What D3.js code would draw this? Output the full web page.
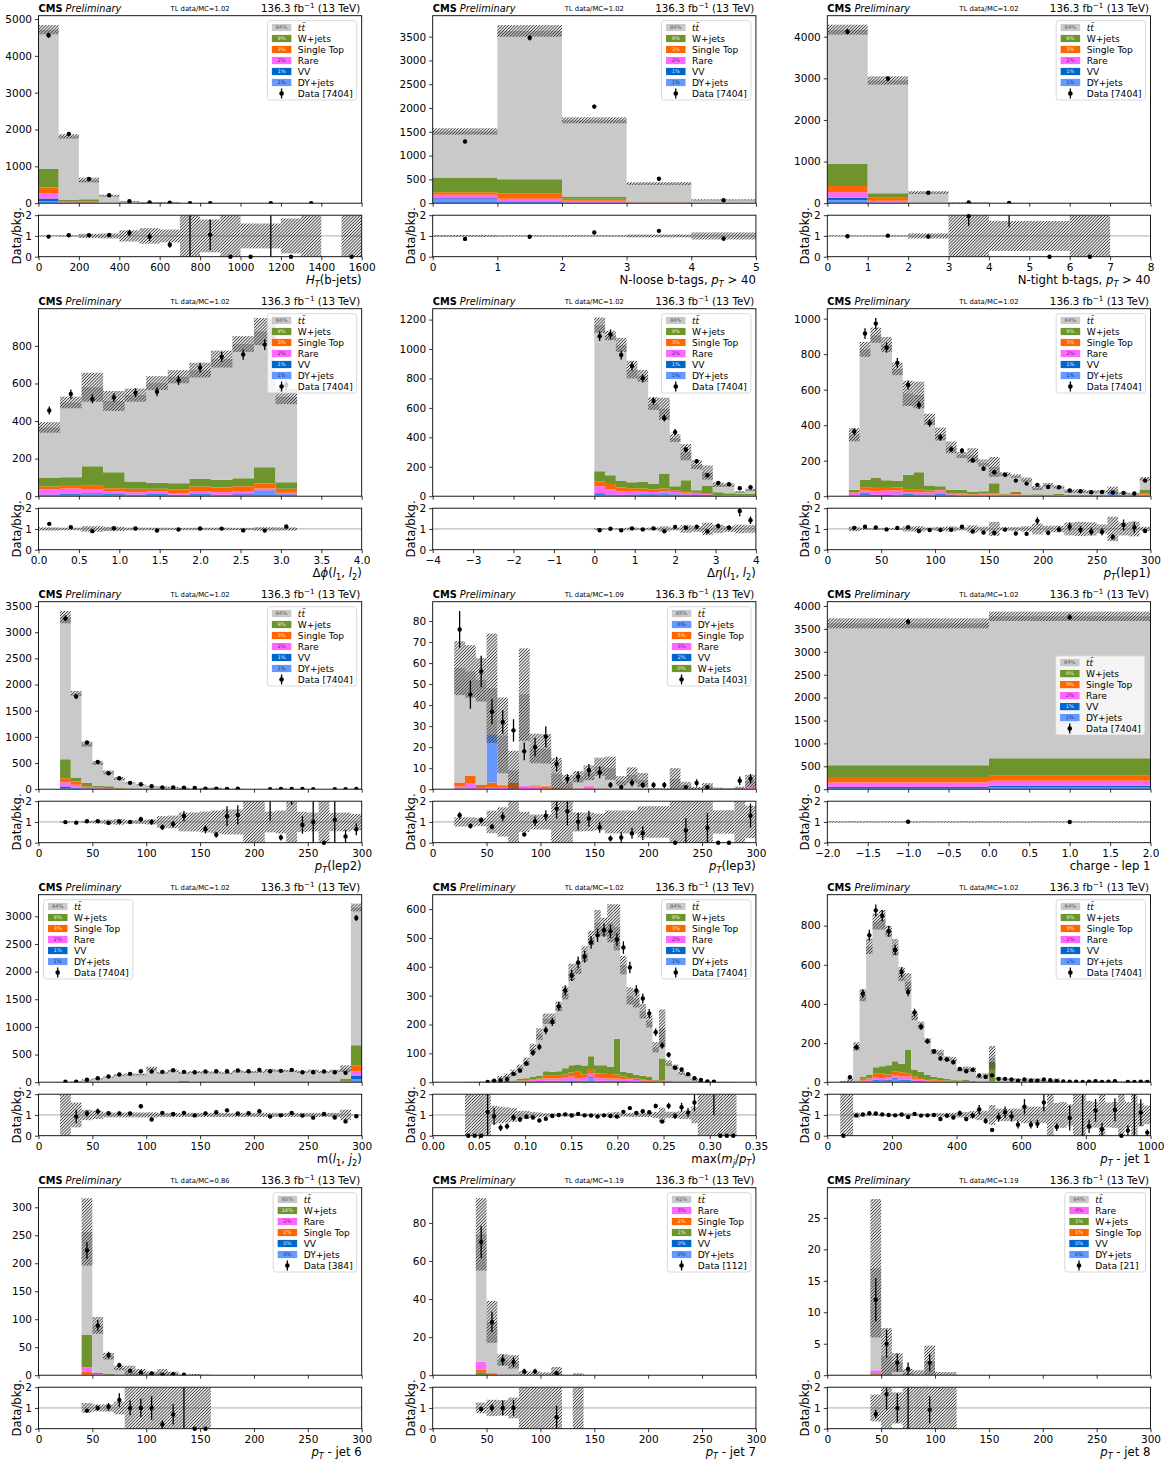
<!DOCTYPE html>
<html>
<head>
<meta charset="utf-8">
<script src="https://cdn.jsdelivr.net/npm/d3@7"></script>
<style>
  body { margin: 0; background: #fff; }
  svg text { font-family: "DejaVu Sans", sans-serif; }
</style>
</head>
<body>
<script>
// ---------------- process definitions ----------------
const procColors = { tt: "#c9c9c9", w: "#6e952d", st: "#ff6600", rare: "#ff66ff", vv: "#0066cc", dy: "#6699ff" };
const procLabels = { tt: "t\u0074\u0304", w: "W+jets", st: "Single Top", rare: "Rare", vv: "VV", dy: "DY+jets" };
const pctColors = { tt: "#5a5a5a", w: "#e4ecd0", st: "#ffe0c8", rare: "#7a1a7a", vv: "#d8e4f8", dy: "#1d3a7a" };

// legend order (top to bottom); stacks are drawn in reverse order
const orderStd = ["tt", "w", "st", "rare", "vv", "dy"];
const orderLep3 = ["tt", "dy", "st", "rare", "vv", "w"];
const orderJet6 = ["tt", "w", "rare", "st", "vv", "dy"];
const orderJet7 = ["tt", "rare", "st", "w", "vv", "dy"];
const orderJet8 = ["tt", "rare", "w", "st", "vv", "dy"];
const pctStd = ["84%", "9%", "3%", "2%", "1%", "1%"];
const pctLep3 = ["85%", "6%", "5%", "3%", "2%", "0%"];
const pctJet6 = ["80%", "16%", "2%", "2%", "0%", "0%"];
const pctJet7 = ["92%", "3%", "2%", "1%", "0%", "0%"];
const pctJet8 = ["94%", "4%", "1%", "1%", "0%", "0%"];

const tlRatios = ["1.02", "1.02", "1.02", "1.02", "1.02", "1.02", "1.02", "1.09", "1.02", "1.02", "1.02", "1.02", "0.86", "1.19", "1.19"];
const dataTotals = [7404, 7404, 7404, 7404, 7404, 7404, 7404, 403, 7404, 7404, 7404, 7404, 384, 112, 21];

// ---------------- H_T(b-jets) ----------------
const htEdges = d3.range(0, 1601, 100);
const htData = [4560, 1880, 655, 215, 55, 23, 15, 1, 2, 0, 0, 1, 0, 1, 0, 0];
const htMC = [4710, 1815, 630, 205, 48, 24, 26, 0.4, 1.9, 0.8, 1.0, 0.35, 0.5, 0, 0, 0.3];
const htUnc = [125, 60, 65, 25, 13, 9, 8, 0.5, 1.5, 0.9, 0.6, 0.21, 0.42, 0.5, 0, 0.4];
const htW = [505, 40, 60, 5, 2, 1, 0.5, 0, 0, 0, 0, 0, 0, 0, 0, 0];
const htST = [155, 25, 25, 5, 2, 1, 0.5, 0, 0, 0, 0, 0, 0, 0, 0, 0];
const htRare = [140, 15, 12, 3, 1, 0.5, 0.3, 0, 0, 0, 0, 0, 0, 0, 0, 0];
const htVV = [70, 5, 5, 1, 0.5, 0.2, 0.2, 0, 0, 0, 0, 0, 0, 0, 0, 0];
const htDY = [60, 5, 5, 1, 0.5, 0.2, 0.2, 0, 0, 0, 0, 0, 0, 0, 0, 0];

// ---------------- N-loose b-tags ----------------
const nlEdges = [0, 1, 2, 3, 4, 5];
const nlData = [1295, 3478, 2030, 515, 61];
const nlMC = [1508, 3620, 1742, 413, 70];
const nlUnc = [67, 122, 63, 28, 12];
const nlW = [308, 294, 49, 5, 1];
const nlST = [56, 119, 42, 8, 2];
const nlRare = [70, 51, 35, 5, 1];
const nlVV = [25, 10, 5, 1, 0];
const nlDY = [80, 30, 9, 1, 0];

// ---------------- N-tight b-tags ----------------
const ntEdges = [0, 1, 2, 3, 4, 5, 6, 7, 8];
const ntData = [4120, 2992, 250, 17, 4, 0, 0, 0];
const ntMC = [4168, 2948, 256, 8.7, 1.38, 0.5, 0.3, 0];
const ntUnc = [120, 100, 32, 10, 1.0, 0.36, 0.4, 0];
const ntW = [530, 112, 2, 0, 0, 0, 0, 0];
const ntST = [150, 72, 1, 0, 0, 0, 0, 0];
const ntRare = [134, 40, 1, 0, 0, 0, 0, 0];
const ntVV = [60, 8, 0.5, 0, 0, 0, 0, 0];
const ntDY = [70, 8, 0.5, 0, 0, 0, 0, 0];

// ---------------- delta phi(l1,l2) ----------------
const dphiEdges = d3.range(13).map(i => i * 4 / 15);
const dphiData = [456, 544, 518, 525, 551, 556, 617, 684, 742, 754, 807, 592];
const dphiMC = [366, 499, 580, 507, 538, 602, 636, 671, 730, 810, 876, 530];
const dphiUnc = [28, 31, 77, 53, 35, 37, 35, 39, 45, 42, 72, 40];
const dphiW = [46, 41, 104, 85, 39, 33, 34, 41, 41, 42, 87, 35];
const dphiST = [16, 19, 18, 16, 18, 14, 21, 23, 25, 25, 26, 21];
const dphiRare = [26, 29, 21, 14, 12, 13, 6, 16, 13, 18, 11, 7];
const dphiVV = [4, 4, 6, 4, 4, 4, 3, 4, 3, 4, 5, 3];
const dphiDY = [5, 8, 10, 8, 5, 8, 5, 8, 5, 6, 25, 8];

// ---------------- delta eta(l1,l2) ----------------
const detaEdges = d3.range(16).map(i => i * 4 / 15);
const detaData = [1087, 1099, 959, 884, 801, 647, 530, 435, 316, 237, 142, 90, 81, 54, 61];
const detaMC = [1162, 1092, 1028, 860, 818, 629, 594, 395, 299, 214, 161, 79, 76, 29, 43];
const detaUnc = [52, 32, 48, 60, 40, 43, 75, 27, 55, 30, 48, 16, 11, 6, 8];
const detaW = [67, 59, 45, 41, 47, 41, 99, 27, 72, 18, 54, 18, 13, 12, 12];
const detaST = [34, 38, 25, 22, 16, 16, 16, 12, 13, 7, 2, 3, 3, 2, 2];
const detaRare = [48, 33, 24, 21, 19, 16, 11, 15, 11, 8, 6, 2, 2, 2, 2];
const detaVV = [10, 6, 5, 6, 5, 5, 5, 4, 4, 3, 3, 1, 1, 1, 1];
const detaDY = [10, 6, 5, 5, 12, 8, 20, 10, 8, 5, 5, 2, 1, 1, 1];

// ---------------- pT(lep1) ----------------
const lepEdges = d3.range(20, 301, 10);
const lep1Data = [364, 916, 972, 837, 751, 626, 514, 411, 331, 265, 256, 202, 155, 135, 121, 88, 71, 64, 52, 50, 32, 28, 22, 24, 21, 19, 15, 88];
const lep1MC = [346, 827, 907, 855, 717, 579, 570, 433, 350, 275, 232, 230, 187, 165, 125, 113, 93, 46, 64, 51, 29, 29, 25, 28, 34, 16, 14, 98];
const lep1Unc = [37, 42, 43, 42, 35, 71, 75, 31, 36, 33, 17, 40, 20, 56, 10, 10, 12, 12, 10, 8, 9, 10, 8, 6, 20, 5, 5, 10];
const lep1W = [15, 46, 51, 38, 36, 84, 98, 28, 15, 22, 22, 13, 13, 58, 6, 11, 2, 4, 3, 5, 2, 2, 2, 3, 2, 2, 2, 22];
const lep1ST = [3, 15, 24, 20, 18, 15, 15, 11, 9, 4, 5, 3, 5, 6, 3, 3, 2, 2, 2, 2, 1, 1, 1, 1, 1, 1, 1, 8];
const lep1Rare = [13, 16, 20, 25, 23, 10, 13, 12, 19, 6, 6, 5, 6, 6, 4, 8, 3, 3, 3, 3, 2, 2, 2, 2, 1, 2, 2, 5];
const lep1VV = [3, 8, 5, 4, 4, 4, 4, 4, 5, 2, 2, 1, 2, 1, 1, 1, 1, 1, 1, 1, 1, 1, 1, 1, 1, 1, 1, 1];
const lep1DY = [3, 8, 3, 3, 5, 8, 5, 5, 8, 3, 2, 2, 2, 2, 1, 1, 1, 1, 1, 1, 1, 1, 1, 1, 18, 1, 1, 2];

// ---------------- pT(lep2) ----------------
const lep2Data = [3265, 1770, 891, 522, 306, 210, 121, 95, 57, 32, 32, 27, 22, 11, 8, 7, 8, 0, 0, 2, 3, 4, 4, 1, 0, 1, 1, 5];
const lep2MC = [3288, 1830, 862, 503, 321, 206, 121, 84, 57, 43, 36, 21, 7, 17, 21, 5.5, 6, 0, 0, 0.56, 12, 1.1, 4.7, 1.0, 0.5, 0.9, 3.3, 7.7];
const lep2Unc = [118, 48, 48, 38, 35, 28, 10, 8.4, 7, 12, 11, 9.5, 3.2, 8.5, 11.5, 3.3, 3.6, 1, 1, 0.28, 6.6, 1.3, 2.3, 0.45, 0.6, 0.4, 1.5, 3];
const lep2W = [363, 77, 64, 32, 32, 10, 4, 2, 1, 1, 0.5, 0, 0, 0, 0, 0, 0, 0, 0, 0, 0, 0, 0, 0, 0, 0, 0, 0];
const lep2ST = [76, 63, 27, 12, 10, 6, 3, 2, 1, 1, 0.5, 0, 0, 0, 0, 0, 0, 0, 0, 0, 0, 0, 0, 0, 0, 0, 0, 0];
const lep2Rare = [84, 53, 14, 10, 7, 5, 2, 1, 1, 0.5, 0.5, 0, 0, 0, 0, 0, 0, 0, 0, 0, 0, 0, 0, 0, 0, 0, 0, 0];
const lep2VV = [25, 15, 8, 5, 4, 2, 1, 1, 0.5, 0.3, 0.3, 0, 0, 0, 0, 0, 0, 0, 0, 0, 0, 0, 0, 0, 0, 0, 0, 0];
const lep2DY = [25, 15, 8, 5, 4, 2, 1, 1, 0.5, 0.3, 0.3, 0, 0, 0, 0, 0, 0, 0, 0, 0, 0, 0, 0, 0, 0, 0, 0, 0];

// ---------------- pT(lep3) ----------------
const lep3Data = [76, 45, 56, 37, 32, 28, 18, 20, 25, 12, 5, 6, 9, 8, 2, 1, 3, 2, 2, 2, 0, 1, 3, 1, 0, 0, 4, 5];
const lep3MC = [57.6, 56, 52, 48, 25.6, 9, 45, 19.4, 19.2, 7.3, 3.3, 5.9, 7.8, 10.7, 10, 4, 6.7, 4.4, 0.25, 0.25, 5, 1.7, 0.5, 1.4, 0.5, 0.3, 0.6, 3.85];
const lep3Unc = [12.8, 12.5, 10.3, 26, 18, 9.3, 22, 7, 7, 7.5, 3.5, 2.7, 3.5, 4.3, 5.5, 2.2, 3.7, 3.3, 0.19, 0.19, 5, 1.8, 0.55, 1.5, 0.28, 0.17, 0.6, 3];
const lep3W = [0, 0, 0, 0, 0, 0, 0, 0, 0, 0, 0, 0, 0, 0, 0, 0, 0, 0, 0, 0, 0, 0, 0, 0, 0, 0, 0, 0];
const lep3ST = [1.9, 3.4, 1.5, 2.1, 0.9, 2.9, 0, 0.6, 1.1, 0.5, 0.3, 0.3, 0.3, 0.3, 0.2, 0.2, 0.2, 0, 0, 0, 0, 0, 0, 0, 0, 0, 0, 0.5];
const lep3Rare = [1.0, 2.6, 0.5, 0.8, 1.0, 0.3, 1.6, 1.3, 0.3, 0, 0, 0, 1.4, 0, 0, 0, 0, 0, 0, 0, 0, 0, 0, 0, 0, 0, 0, 0.8];
const lep3VV = [0.3, 0.3, 0, 0.3, 0, 0, 0, 0, 0, 0, 0, 0, 0, 0, 0, 0, 0, 0, 0, 0, 0, 0, 0, 0, 0, 0, 0, 0];
const lep3DY = [0, 0, 0, 22.9, 0, 0, 0, 0, 0, 0, 0, 0, 0, 0, 0, 0, 0, 0, 0, 0, 0, 0, 0, 0, 0, 0, 0, 0];

// ---------------- charge lep1 ----------------
const chEdges = [-2, 0, 2];
const chData = [3658, 3753];
const chMC = [3622, 3775];
const chUnc = [109, 102];
const chW = [255, 385];
const chST = [124, 109];
const chRare = [90, 109];
const chVV = [30, 37];
const chDY = [25, 36];

// ---------------- m(l1,j2) ----------------
const mljData = [7, 8, 45, 72, 102, 139, 151, 199, 193, 187, 217, 187, 181, 193, 199, 199, 211, 199, 223, 199, 205, 223, 181, 181, 193, 181, 169, 2970];
const mljMC = [2, 8.7, 42, 61.5, 94, 129, 141, 140, 247, 170, 207, 170, 185, 179, 176, 163, 197, 184, 189, 216, 209, 203, 187, 208, 184, 206, 245, 3160];
const mljUnc = [2.2, 5.2, 10.5, 12, 11, 15, 17, 17, 32, 17, 21, 17, 19, 18, 18, 16, 20, 18, 19, 22, 21, 20, 19, 21, 18, 21, 61, 70];
const mljW = [0, 0.5, 1, 2, 3, 4, 4, 5, 6, 5, 5, 5, 5, 8, 6, 6, 8, 8, 6, 6, 6, 8, 6, 6, 6, 6, 45, 362];
const mljST = [0, 0.2, 0.5, 1, 1, 2, 2, 2, 3, 2, 2, 2, 2, 2, 2, 2, 2, 2, 2, 2, 2, 2, 2, 2, 2, 2, 5, 107];
const mljRare = [0, 0.2, 0.5, 1, 1, 1, 1, 1, 2, 1, 1, 1, 1, 1, 1, 1, 1, 1, 1, 1, 1, 1, 1, 1, 1, 1, 5, 90];
const mljVV = [0, 0, 0.5, 0.5, 1, 1, 1, 1, 1, 1, 1, 12, 1, 1, 1, 1, 1, 1, 1, 1, 1, 1, 1, 1, 1, 1, 3, 50];
const mljDY = [0, 0, 0.5, 0.5, 1, 1, 1, 1, 1, 1, 1, 1, 1, 1, 1, 1, 1, 1, 1, 1, 1, 1, 1, 1, 1, 1, 2, 60];

// ---------------- max(m_j/p_T) ----------------
const mjEdges = d3.range(5, 48).map(k => k * 0.007);
const mjData = [0, 0, 0, 1, 5, 6, 10, 29, 40, 65, 102, 122, 180, 209, 263, 318, 370, 415, 435, 485, 509, 527, 523, 494, 467, 398, 318, 290, 238, 173, 127, 95, 50, 44, 28, 14, 8, 3, 2, 0, 0, 0];
const mjMC = [0.5, 0.8, 1.0, 0.87, 5.4, 15.8, 22, 33, 51, 71, 116, 167, 220, 220, 263, 309, 381, 395, 444, 500, 553, 538, 551, 537, 406, 299, 289, 246, 211, 121, 187, 66, 53, 32, 25, 8.75, 2, 0.6, 0.59, 0.5, 0.5, 0.4];
const mjUnc = [0.6, 0.9, 1.1, 0.9, 2.4, 6.3, 8, 11, 10, 14, 17, 20, 18, 18, 16, 22, 30, 20, 27, 25, 44, 32, 66, 80, 32, 30, 30, 25, 21, 18, 65, 10, 8, 6.4, 5, 3.5, 2.5, 0.8, 0.8, 0.6, 0.6, 0.5];
const mjW = [0, 0, 0, 0, 0, 0, 3, 4, 5, 6, 8, 10, 16, 14, 16, 21, 25, 25, 31, 44, 29, 30, 25, 124, 16, 19, 12, 12, 12, 4, 75, 2, 1, 0, 0, 0, 0, 0, 0, 0, 0, 0];
const mjST = [0, 0, 0, 0, 0, 0, 1, 1, 2, 3, 3, 4, 9, 9, 9, 12, 14, 23, 12, 17, 15, 15, 15, 14, 10, 5, 5, 4, 3, 2, 3, 1, 0, 0, 0, 0, 0, 0, 0, 0, 0, 0];
const mjRare = [0, 0, 0, 0, 0, 0, 0, 1, 2, 3, 4, 5, 8, 8, 8, 9, 14, 8, 9, 12, 10, 9, 8, 7, 6, 6, 5, 4, 3, 2, 2, 1, 0, 0, 0, 0, 0, 0, 0, 0, 0, 0];
const mjVV = [0, 0, 0, 0, 0, 0, 0, 0, 1, 1, 1, 2, 2, 2, 2, 3, 2, 2, 2, 3, 2, 2, 2, 3, 2, 1, 1, 1, 1, 0, 1, 0, 0, 0, 0, 0, 0, 0, 0, 0, 0, 0];
const mjDY = [0, 0, 0, 0, 0, 0, 0, 0, 1, 1, 2, 2, 3, 3, 3, 3, 4, 3, 4, 14, 3, 3, 3, 3, 2, 2, 2, 1, 1, 1, 1, 0, 0, 0, 0, 0, 0, 0, 0, 0, 0, 0];

// ---------------- pT jet 1 ----------------
const j1Edges = d3.range(40, 1001, 20);
const j1Data = [0, 25, 179, 453, 751, 878, 851, 771, 676, 563, 461, 356, 283, 209, 157, 121, 116, 102, 68, 56, 63, 34, 27, 35, 17, 17, 14, 8, 14, 8, 8, 14, 10, 5, 4, 2, 3, 1, 2, 5, 1, 3, 5, 0, 1, 1, 3, 1];
const j1MC = [3, 8, 183, 444, 695, 821, 830, 771, 690, 552, 512, 339, 292, 213, 157, 151, 120, 116, 63, 70, 65, 27, 38, 125, 19, 15, 15, 15, 10, 15, 14, 8.75, 3, 12, 0.8, 2.35, 0.5, 0.45, 4.4, 4.1, 3.3, 0.5, 4, 2, 4, 0.45, 2.7, 6.7];
const j1Unc = [4, 9, 21, 30, 40, 41, 50, 27, 42, 35, 45, 22, 18, 12, 12, 15, 12, 12, 8, 10, 12, 6.8, 7.6, 60, 5.7, 4.5, 4.5, 4.5, 4, 6, 5.6, 3.5, 3.5, 7, 0.5, 1.2, 0.5, 0.5, 3, 2.5, 3.5, 0.3, 2.5, 2.2, 2.5, 0.5, 1.5, 3];
const j1W = [0, 0, 4, 10, 12, 34, 39, 48, 51, 43, 124, 34, 31, 22, 13, 11, 8, 6, 4, 8, 2, 1, 1, 98, 1, 1, 0.5, 0.5, 0.5, 0.5, 0.5, 0.5, 0, 0, 0, 0, 0, 0, 0, 0, 0, 0, 0, 0, 0, 0, 0, 0];
const j1ST = [0, 0, 2, 9, 10, 17, 21, 13, 20, 22, 14, 14, 8, 7, 6, 5, 4, 3, 2, 2, 1, 1, 1, 3, 0.5, 0.5, 0.5, 0.5, 0.5, 0.5, 0.5, 0.5, 0, 0, 0, 0, 0, 0, 0, 0, 0, 0, 0, 0, 0, 0, 0, 0];
const j1Rare = [0, 0, 1, 3, 9, 13, 12, 14, 13, 16, 16, 10, 8, 5, 4, 3, 3, 3, 2, 2, 1, 1, 1, 2, 0.3, 0.3, 0.3, 0.3, 0.3, 0.3, 0.3, 0.3, 0, 0, 0, 0, 0, 0, 0, 0, 0, 0, 0, 0, 0, 0, 0, 0];
const j1VV = [0, 0, 1, 2, 3, 5, 4, 5, 5, 5, 5, 3, 3, 2, 2, 1, 1, 1, 1, 1, 1, 0, 0, 0, 0, 0, 0, 0, 0, 0, 0, 0, 0, 0, 0, 0, 0, 0, 0, 0, 0, 0, 0, 0, 0, 0, 0, 0];
const j1DY = [0, 0, 1, 3, 5, 8, 6, 7, 18, 8, 8, 4, 3, 2, 2, 1, 1, 1, 1, 1, 1, 0, 0, 1, 0, 0, 0, 0, 0, 0, 0, 0, 0, 0, 0, 0, 0, 0, 0, 0, 0, 0, 0, 0, 0, 0, 0, 0];

// ---------------- pT jet 6 ----------------
const j6Edges = d3.range(40, 161, 10);
const j6Data = [223, 89, 36, 18, 8, 5, 3, 1, 2, 1, 0, 0];
const j6MC = [256, 89, 34, 13, 8, 5, 3, 5, 2.9, 0.45, 1, 0.5];
const j6Unc = [60, 15, 6, 4, 9, 6, 3.5, 6, 3.5, 0.6, 1.2, 0.6];
const j6W = [58, 2, 1, 0.5, 0, 0, 0, 0, 0, 0, 0, 0];
const j6ST = [5, 1, 0.5, 0.2, 0, 0, 0, 0, 0, 0, 0, 0];
const j6Rare = [8, 1, 0.5, 0.2, 0, 0, 0, 0, 0, 0, 0, 0];
const j6VV = [0.5, 0, 0, 0, 0, 0, 0, 0, 0, 0, 0, 0];
const j6DY = [0.5, 0, 0, 0, 0, 0, 0, 0, 0, 0, 0, 0];

// ---------------- pT jet 7 ----------------
const j7Edges = d3.range(40, 141, 10);
const j7Data = [70, 28, 8, 7, 2, 2, 0, 1, 0, 0];
const j7MC = [74, 28, 8, 7, 0, 0, 0, 1.8, 0, 0];
const j7Unc = [19, 11, 3, 3.5, 2, 2, 1.5, 2.5, 0, 1];
const j7W = [1.2, 0.3, 0, 0, 0, 0, 0, 0, 0, 0];
const j7ST = [1.3, 0.3, 0, 0, 0, 0, 0, 0, 0, 0];
const j7Rare = [4.2, 0.5, 0.2, 0, 0, 0, 0, 0, 0, 0];
const j7VV = [0.3, 0, 0, 0, 0, 0, 0, 0, 0, 0];
const j7DY = [0, 0, 0, 0, 0, 0, 0, 0, 0, 0];

// ---------------- pT jet 8 ----------------
const j8Edges = d3.range(40, 121, 10);
const j8Data = [12, 5, 2, 1, 0, 2, 0, 0];
const j8MC = [17, 3, 2, 0.4, 0, 2.2, 0, 0];
const j8Unc = [11, 4.5, 1.5, 0.6, 0.8, 2.5, 0.5, 0.5];
const j8W = [0.2, 0, 0, 0, 0, 0, 0, 0];
const j8ST = [0.1, 0, 0, 0, 0, 0, 0, 0];
const j8Rare = [0.5, 0.1, 0, 0, 0, 0, 0, 0];
const j8VV = [0, 0, 0, 0, 0, 0, 0, 0];
const j8DY = [0, 0, 0, 0, 0, 0, 0, 0];

// ---------------- axis titles (text, style: i=italic, s=subscript) ----------------
const xlHT = [["H", "i"], ["T", "is"], ["(b-jets)", ""]];
const xlNL = [["N-loose b-tags, ", ""], ["p", "i"], ["T", "is"], [" > 40", ""]];
const xlNT = [["N-tight b-tags, ", ""], ["p", "i"], ["T", "is"], [" > 40", ""]];
const xlDphi = [["\u0394", ""], ["\u03d5", "i"], ["(", ""], ["l", "i"], ["1", "s"], [", ", ""], ["l", "i"], ["2", "s"], [")", ""]];
const xlDeta = [["\u0394", ""], ["\u03b7", "i"], ["(", ""], ["l", "i"], ["1", "s"], [", ", ""], ["l", "i"], ["2", "s"], [")", ""]];
const xlLep1 = [["p", "i"], ["T", "is"], ["(lep1)", ""]];
const xlLep2 = [["p", "i"], ["T", "is"], ["(lep2)", ""]];
const xlLep3 = [["p", "i"], ["T", "is"], ["(lep3)", ""]];
const xlCharge = [["charge - lep 1", ""]];
const xlMlj = [["m(", ""], ["l", "i"], ["1", "s"], [", ", ""], ["j", "i"], ["2", "s"], [")", ""]];
const xlMj = [["max(", ""], ["m", "i"], ["j", "is"], ["/", ""], ["p", "i"], ["T", "is"], [")", ""]];
const xlJet1 = [["p", "i"], ["T", "is"], [" - jet 1", ""]];
const xlJet6 = [["p", "i"], ["T", "is"], [" - jet 6", ""]];
const xlJet7 = [["p", "i"], ["T", "is"], [" - jet 7", ""]];
const xlJet8 = [["p", "i"], ["T", "is"], [" - jet 8", ""]];

// ---------------- panel table ----------------
const fInt = d3.format("d"), f1 = d3.format(".1f"), f2 = d3.format(".2f");
const panels = [
  { edges: htEdges, data: htData, mc: htMC, unc: htUnc, parts: { w: htW, st: htST, rare: htRare, vv: htVV, dy: htDY },
    xDom: [0, 1600], xTicks: d3.range(0, 1601, 200), xFmt: fInt, yMax: 5090, yTicks: d3.range(0, 5001, 1000), xl: xlHT, order: orderStd, pct: pctStd, leg: "ur" },
  { edges: nlEdges, data: nlData, mc: nlMC, unc: nlUnc, parts: { w: nlW, st: nlST, rare: nlRare, vv: nlVV, dy: nlDY },
    xDom: [0, 5], xTicks: d3.range(0, 6, 1), xFmt: fInt, yMax: 3940, yTicks: d3.range(0, 3501, 500), xl: xlNL, order: orderStd, pct: pctStd, leg: "ur" },
  { edges: ntEdges, data: ntData, mc: ntMC, unc: ntUnc, parts: { w: ntW, st: ntST, rare: ntRare, vv: ntVV, dy: ntDY },
    xDom: [0, 8], xTicks: d3.range(0, 9, 1), xFmt: fInt, yMax: 4504, yTicks: d3.range(0, 4001, 1000), xl: xlNT, order: orderStd, pct: pctStd, leg: "ur" },
  { edges: dphiEdges, data: dphiData, mc: dphiMC, unc: dphiUnc, parts: { w: dphiW, st: dphiST, rare: dphiRare, vv: dphiVV, dy: dphiDY },
    xDom: [0, 4], xTicks: d3.range(0, 4.01, 0.5), xFmt: f1, yMax: 998, yTicks: d3.range(0, 801, 200), xl: xlDphi, order: orderStd, pct: pctStd, leg: "ur" },
  { edges: detaEdges, data: detaData, mc: detaMC, unc: detaUnc, parts: { w: detaW, st: detaST, rare: detaRare, vv: detaVV, dy: detaDY },
    xDom: [-4, 4], xTicks: d3.range(-4, 5, 1), xFmt: fInt, yMax: 1274, yTicks: d3.range(0, 1201, 200), xl: xlDeta, order: orderStd, pct: pctStd, leg: "ur" },
  { edges: lepEdges, data: lep1Data, mc: lep1MC, unc: lep1Unc, parts: { w: lep1W, st: lep1ST, rare: lep1Rare, vv: lep1VV, dy: lep1DY },
    xDom: [0, 300], xTicks: d3.range(0, 301, 50), xFmt: fInt, yMax: 1056, yTicks: d3.range(0, 1001, 200), xl: xlLep1, order: orderStd, pct: pctStd, leg: "ur" },
  { edges: lepEdges, data: lep2Data, mc: lep2MC, unc: lep2Unc, parts: { w: lep2W, st: lep2ST, rare: lep2Rare, vv: lep2VV, dy: lep2DY },
    xDom: [0, 300], xTicks: d3.range(0, 301, 50), xFmt: fInt, yMax: 3583, yTicks: d3.range(0, 3501, 500), xl: xlLep2, order: orderStd, pct: pctStd, leg: "ur" },
  { edges: lepEdges, data: lep3Data, mc: lep3MC, unc: lep3Unc, parts: { w: lep3W, st: lep3ST, rare: lep3Rare, vv: lep3VV, dy: lep3DY },
    xDom: [0, 300], xTicks: d3.range(0, 301, 50), xFmt: fInt, yMax: 89.2, yTicks: d3.range(0, 81, 10), xl: xlLep3, order: orderLep3, pct: pctLep3, leg: "ur" },
  { edges: chEdges, data: chData, mc: chMC, unc: chUnc, parts: { w: chW, st: chST, rare: chRare, vv: chVV, dy: chDY },
    xDom: [-2, 2], xTicks: d3.range(-2, 2.01, 0.5), xFmt: f1, yMax: 4094, yTicks: d3.range(0, 4001, 500), xl: xlCharge, order: orderStd, pct: pctStd, leg: "cr" },
  { edges: lepEdges, data: mljData, mc: mljMC, unc: mljUnc, parts: { w: mljW, st: mljST, rare: mljRare, vv: mljVV, dy: mljDY },
    xDom: [0, 300], xTicks: d3.range(0, 301, 50), xFmt: fInt, yMax: 3391, yTicks: d3.range(0, 3001, 500), xl: xlMlj, order: orderStd, pct: pctStd, leg: "ul" },
  { edges: mjEdges, data: mjData, mc: mjMC, unc: mjUnc, parts: { w: mjW, st: mjST, rare: mjRare, vv: mjVV, dy: mjDY },
    xDom: [0, 0.35], xTicks: d3.range(0, 0.351, 0.05), xFmt: f2, yMax: 650, yTicks: d3.range(0, 601, 100), xl: xlMj, order: orderStd, pct: pctStd, leg: "ur" },
  { edges: j1Edges, data: j1Data, mc: j1MC, unc: j1Unc, parts: { w: j1W, st: j1ST, rare: j1Rare, vv: j1VV, dy: j1DY },
    xDom: [0, 1000], xTicks: d3.range(0, 1001, 200), xFmt: fInt, yMax: 958, yTicks: d3.range(0, 801, 200), xl: xlJet1, order: orderStd, pct: pctStd, leg: "ur" },
  { edges: j6Edges, data: j6Data, mc: j6MC, unc: j6Unc, parts: { w: j6W, st: j6ST, rare: j6Rare, vv: j6VV, dy: j6DY },
    xDom: [0, 300], xTicks: d3.range(0, 301, 50), xFmt: fInt, yMax: 335, yTicks: d3.range(0, 301, 50), xl: xlJet6, order: orderJet6, pct: pctJet6, leg: "ur" },
  { edges: j7Edges, data: j7Data, mc: j7MC, unc: j7Unc, parts: { w: j7W, st: j7ST, rare: j7Rare, vv: j7VV, dy: j7DY },
    xDom: [0, 300], xTicks: d3.range(0, 301, 50), xFmt: fInt, yMax: 98.5, yTicks: d3.range(0, 81, 20), xl: xlJet7, order: orderJet7, pct: pctJet7, leg: "ur" },
  { edges: j8Edges, data: j8Data, mc: j8MC, unc: j8Unc, parts: { w: j8W, st: j8ST, rare: j8Rare, vv: j8VV, dy: j8DY },
    xDom: [0, 300], xTicks: d3.range(0, 301, 50), xFmt: fInt, yMax: 29.8, yTicks: d3.range(0, 26, 5), xl: xlJet8, order: orderJet8, pct: pctJet8, leg: "ur" }
];

// ---------------- layout ----------------
const W = 1168, H = 1462;
const AW = 323.2, MH = 187.5, RGAP = 12, RH = 41.5;
const colLeft = [38.5, 432.7, 827.3];
const rowTop = [15.7, 308.7, 601.7, 894.7, 1187.7];
const TICK_FS = 10.5, LABEL_FS = 11.7;

const svg = d3.select("body").append("svg").attr("width", W).attr("height", H)
  .style("background", "#fff");
const defs = svg.append("defs");

// dense diagonal "/" hatch used for the MC uncertainty
const hatch = defs.append("pattern").attr("id", "hatch")
  .attr("patternUnits", "userSpaceOnUse").attr("width", 2.2).attr("height", 10)
  .attr("patternTransform", "rotate(45)");
hatch.append("line").attr("x1", 1.1).attr("y1", 0).attr("x2", 1.1).attr("y2", 10)
  .attr("stroke", "#3a3a3a").attr("stroke-width", 0.95);

function styleAxis(sel) {
  sel.select(".domain").remove();
  sel.attr("font-family", null).attr("font-size", null);
  sel.selectAll(".tick line").attr("stroke", "#000").attr("stroke-width", 0.8);
  sel.selectAll(".tick text").attr("fill", "#000").style("font-size", TICK_FS + "px");
}

function addRich(textSel, parts, fs) {
  let shift = 0;
  parts.forEach(([t, s]) => {
    const ts = textSel.append("tspan").text(t);
    if (s.includes("i")) ts.attr("font-style", "italic");
    if (s.includes("s")) {
      const d = fs * 0.24;
      ts.attr("font-size", fs * 0.7).attr("dy", d - shift);
      shift = d;
    } else if (shift) {
      ts.attr("dy", -shift);
      shift = 0;
    }
  });
}

function drawLegend(g, p, idx) {
  const fs = 9.1, rowH = 11, top0 = 6.8;
  const lg = g.append("g");
  const box = lg.append("rect");
  const items = p.order.map((k, i) => ({ k, label: procLabels[k], pct: p.pct[i] }));
  items.push({ k: "data", label: "Data [" + dataTotals[idx] + "]" });
  let maxLen = 0;
  items.forEach((it, i) => {
    const cy = top0 + i * rowH;
    if (it.k === "data") {
      lg.append("line").attr("x1", 14.2).attr("x2", 14.2).attr("y1", cy - 5).attr("y2", cy + 5)
        .attr("stroke", "#000").attr("stroke-width", 1.3);
      lg.append("circle").attr("cx", 14.2).attr("cy", cy).attr("r", 2.3).attr("fill", "#000");
    } else {
      lg.append("rect").attr("x", 4.5).attr("y", cy - 3.6).attr("width", 19.5).attr("height", 7.2)
        .attr("fill", procColors[it.k]);
      lg.append("text").attr("x", 14.2).attr("y", cy + 1.8).attr("text-anchor", "middle")
        .attr("font-size", 5.2).attr("fill", pctColors[it.k]).text(it.pct);
    }
    const t = lg.append("text").attr("x", 30.5).attr("y", cy + 3.3).attr("font-size", fs).attr("fill", "#000")
      .text(it.label);
    if (it.k === "tt") t.attr("font-style", "italic");
    maxLen = Math.max(maxLen, t.node().getComputedTextLength());
  });
  const bw = 30.5 + maxLen + 4, bh = top0 + 6 * rowH + 6.5;
  box.attr("x", 0).attr("y", 0).attr("width", bw).attr("height", bh).attr("rx", 2.5)
    .attr("fill", "#fff").attr("fill-opacity", 0.8).attr("stroke", "#cfcfcf").attr("stroke-width", 0.8);
  let tx = AW - 5 - bw, ty = 5;
  if (p.leg === "ul") tx = 5;
  if (p.leg === "cr") { tx = AW - 5.6 - bw; ty = MH / 2 - bh / 2; }
  lg.attr("transform", `translate(${tx},${ty})`);
}

function drawPanel(p, idx) {
  const col = idx % 3, row = Math.floor(idx / 3);
  const g = svg.append("g").attr("transform", `translate(${colLeft[col]},${rowTop[row]})`);
  const x = d3.scaleLinear().domain(p.xDom).range([0, AW]);
  const y = d3.scaleLinear().domain([0, p.yMax]).range([MH, 0]);
  const yr = d3.scaleLinear().domain([0, 2]).range([RH, 0]);
  const nb = p.edges.length - 1;
  const bins = d3.range(nb).map(i => ({ x0: p.edges[i], x1: p.edges[i + 1], c: (p.edges[i] + p.edges[i + 1]) / 2 }));

  defs.append("clipPath").attr("id", "cm" + idx).append("rect").attr("width", AW).attr("height", MH);
  defs.append("clipPath").attr("id", "cr" + idx).append("rect").attr("width", AW).attr("height", RH);

  // ----- main panel: stacked backgrounds -----
  const mg = g.append("g").attr("clip-path", `url(#cm${idx})`);
  const area = d3.area().x(d => x(d.x)).y0(d => y(d.lo)).y1(d => y(d.hi));
  const stackOrder = p.order.slice().reverse();
  let base = bins.map(() => 0);
  stackOrder.forEach(k => {
    const top = k === "tt" ? p.mc.map((m, i) => Math.max(m, base[i])) : base.map((b, i) => b + p.parts[k][i]);
    const pts = [];
    bins.forEach((b, i) => {
      pts.push({ x: b.x0, lo: base[i], hi: top[i] }, { x: b.x1, lo: base[i], hi: top[i] });
    });
    mg.append("path").attr("d", area(pts)).attr("fill", procColors[k]);
    base = top;
  });

  // uncertainty band on the total
  bins.forEach((b, i) => {
    if (p.unc[i] <= 0) return;
    const lo = Math.max(0, p.mc[i] - p.unc[i]), hi = p.mc[i] + p.unc[i];
    mg.append("rect").attr("x", x(b.x0)).attr("width", x(b.x1) - x(b.x0))
      .attr("y", y(hi)).attr("height", y(lo) - y(hi)).attr("fill", "url(#hatch)");
  });

  // data points with Poisson errors
  bins.forEach((b, i) => {
    const v = p.data[i];
    if (v <= 0) return;
    const e = Math.sqrt(v);
    mg.append("line").attr("x1", x(b.c)).attr("x2", x(b.c)).attr("y1", y(v - e)).attr("y2", y(v + e))
      .attr("stroke", "#000").attr("stroke-width", 1.3);
    mg.append("circle").attr("cx", x(b.c)).attr("cy", y(v)).attr("r", 2.2).attr("fill", "#000");
  });

  // axes of main panel
  const ayM = g.append("g").call(d3.axisLeft(y).tickValues(p.yTicks).tickFormat(fInt).tickSize(3.5).tickPadding(3));
  styleAxis(ayM);
  const axM = g.append("g").attr("transform", `translate(0,${MH})`)
    .call(d3.axisBottom(x).tickValues(p.xTicks).tickFormat("").tickSize(3.5));
  styleAxis(axM);
  g.append("rect").attr("width", AW).attr("height", MH).attr("fill", "none").attr("stroke", "#000").attr("stroke-width", 0.9);

  drawLegend(g, p, idx);

  // titles
  const t1 = g.append("text").attr("x", 0).attr("y", -4).attr("font-size", 9.8).attr("fill", "#000");
  t1.append("tspan").attr("font-weight", "bold").text("CMS");
  t1.append("tspan").attr("font-style", "italic").text(" Preliminary");
  g.append("text").attr("x", AW / 2).attr("y", -4.6).attr("text-anchor", "middle").attr("font-size", 6.8)
    .attr("fill", "#000").text("TL data/MC=" + tlRatios[idx]);
  const t3 = g.append("text").attr("x", AW - 1.5).attr("y", -3.5).attr("text-anchor", "end").attr("font-size", 10.3).attr("fill", "#000");
  t3.append("tspan").text("136.3 fb");
  t3.append("tspan").attr("font-size", 7.2).attr("dy", -4).text("\u22121");
  t3.append("tspan").attr("dy", 4).text(" (13 TeV)");

  // ----- ratio panel -----
  const rg = g.append("g").attr("transform", `translate(0,${MH + RGAP})`);
  const rc = rg.append("g").attr("clip-path", `url(#cr${idx})`);
  rc.append("line").attr("x1", 0).attr("x2", AW).attr("y1", yr(1)).attr("y2", yr(1))
    .attr("stroke", "#cfcfcf").attr("stroke-width", 1.8);
  bins.forEach((b, i) => {
    let lo, hi;
    if (p.mc[i] > 0) {
      if (p.unc[i] <= 0) return;
      lo = 1 - p.unc[i] / p.mc[i]; hi = 1 + p.unc[i] / p.mc[i];
    } else if (p.unc[i] > 0) { lo = 0; hi = 2; } else return;
    lo = Math.max(lo, 0); hi = Math.min(hi, 2);
    rc.append("rect").attr("x", x(b.x0)).attr("width", x(b.x1) - x(b.x0))
      .attr("y", yr(hi)).attr("height", yr(lo) - yr(hi)).attr("fill", "url(#hatch)");
  });
  bins.forEach((b, i) => {
    if (!(p.mc[i] > 0)) return;
    const r = p.data[i] / p.mc[i], e = Math.sqrt(p.data[i]) / p.mc[i];
    if (e > 0) {
      const a = Math.max(r - e, 0), c = Math.min(r + e, 2);
      if (c > a) rc.append("line").attr("x1", x(b.c)).attr("x2", x(b.c)).attr("y1", yr(a)).attr("y2", yr(c))
        .attr("stroke", "#000").attr("stroke-width", 1.3);
    }
    if (r <= 2) rg.append("circle").attr("cx", x(b.c)).attr("cy", yr(r)).attr("r", 2.2).attr("fill", "#000");
  });
  const ayR = rg.append("g").call(d3.axisLeft(yr).tickValues([0, 1, 2]).tickFormat(fInt).tickSize(3.5).tickPadding(3));
  styleAxis(ayR);
  const axR = rg.append("g").attr("transform", `translate(0,${RH})`)
    .call(d3.axisBottom(x).tickValues(p.xTicks).tickFormat(p.xFmt).tickSize(3.5).tickPadding(3));
  styleAxis(axR);
  rg.append("rect").attr("width", AW).attr("height", RH).attr("fill", "none").attr("stroke", "#000").attr("stroke-width", 0.9);

  // axis titles
  const xt = rg.append("text").attr("x", AW).attr("y", RH + 27.6).attr("text-anchor", "end")
    .attr("font-size", LABEL_FS).attr("fill", "#000");
  addRich(xt, p.xl, LABEL_FS);
  rg.append("text").attr("transform", `translate(-18,${RH / 2}) rotate(-90)`).attr("text-anchor", "middle")
    .attr("font-size", LABEL_FS).attr("fill", "#000").text("Data/bkg.");
}

panels.forEach((p, i) => drawPanel(p, i));
</script>
</body>
</html>
